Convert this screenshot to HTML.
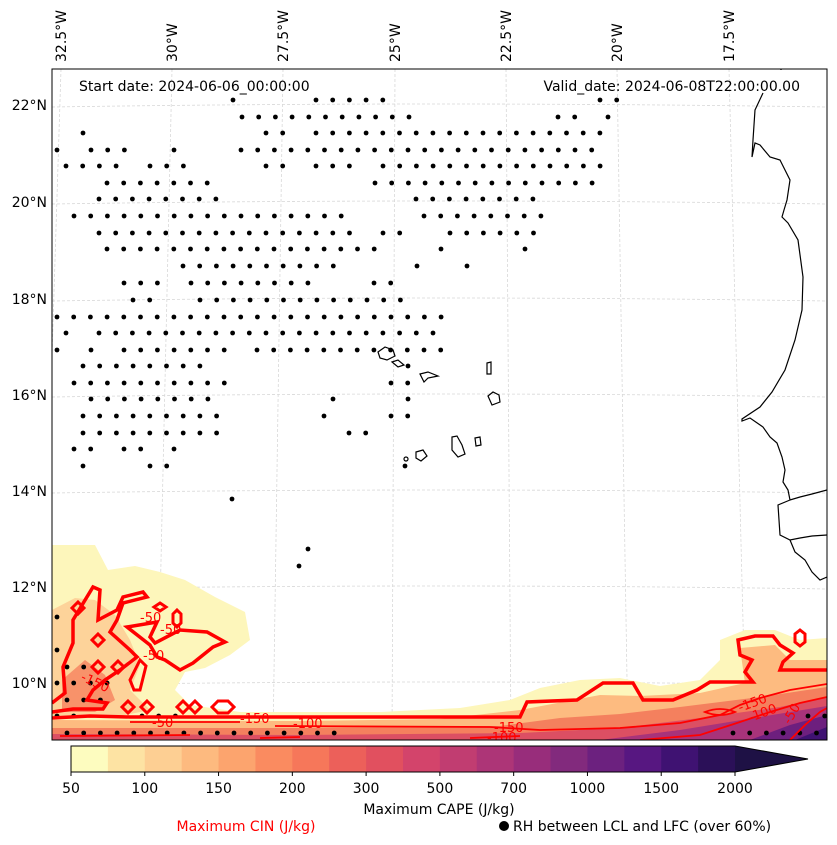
<!DOCTYPE html>
<html><head><meta charset="utf-8"><style>
html,body{margin:0;padding:0;background:#fff;}
svg{display:block;font-family:"DejaVu Sans","Liberation Sans",sans-serif;}
</style></head><body>
<svg id="fig" width="837" height="845" viewBox="0 0 837 845" xmlns="http://www.w3.org/2000/svg">
<defs><clipPath id="mapclip"><rect x="52" y="69" width="775" height="671"/></clipPath></defs>
<rect x="0" y="0" width="837" height="845" fill="#fff"/>
<g clip-path="url(#mapclip)">
  <g id="grid"></g>
  <g>
    <path fill="#fdf6bb" d="M52,545 L95,545 L108,570 L135,566 L160,572 L185,580 L215,597 L245,612 L250,640 L230,655 L205,668 L185,672 L175,690 L190,705 L240,712 L300,712 L380,712 L460,708 L510,700 L540,688 L580,680 L620,678 L660,686 L700,680 L720,660 L720,640 L745,630 L775,630 L800,640 L827,638 L827,740 L52,740 Z"/>
    <path fill="#fdd39a" d="M52,610 L75,598 L95,600 L115,615 L130,640 L140,665 L130,690 L150,710 L120,716 L52,716 Z"/>
    <path fill="#fdbb80" d="M52,720 L300,721 L440,719 L520,710 L600,695 L640,696 L700,693 L745,683 L740,648 L775,645 L790,660 L827,660 L827,740 L52,740 Z"/>
    <path fill="#f8926a" d="M62,680 L85,660 L105,675 L115,700 L95,712 L62,712 Z"/>
    <path fill="#f4805e" d="M52,728 L300,728 L500,726 L560,718 L620,714 L680,707 L760,697 L827,687 L827,740 L52,740 Z"/>
    <path fill="#dc4f63" d="M52,734 L300,735 L520,733 L620,728 L700,718 L780,707 L827,697 L827,740 L52,740 Z"/>
    <path fill="#a8337a" d="M600,740 L680,730 L760,717 L827,706 L827,740 Z"/>
    <path fill="#6d1f7e" d="M750,740 L790,725 L827,715 L827,740 Z"/>
    <path fill="#3f1272" d="M795,740 L827,727 L827,740 Z"/>
  </g>
  <g id="dots"></g>
  <g fill="none" stroke="#000" stroke-width="1.2">
    <path d="M781,62 L781,70 M763,93 L755,110 L753,140 L752,157 L755,143 L760,145 L770,157 L780,160 L783,166 L790,180 L787,200 L784,210 L782,217 L788,223 L798,240 L803,277 L802,310 L795,340 L785,370 L772,392 L760,407 L742,419 L742,421 L750,418 L763,427 L770,437 L777,443 L782,457 L785,470 L783,482 L788,490 L790,500 L800,497 L812,494 L827,490 M790,500 L778,505 L779,520 L780,535 L790,540 L800,538 L812,536 L827,535 M790,540 L795,552 L805,560 L812,572 L820,580 L827,577"/>
    <path d="M378,352 L385,347 L393,350 L395,356 L387,360 L380,358 Z"/>
    <path d="M392,362 L398,360 L404,365 L398,367 Z"/>
    <path d="M420,374 L428,372 L438,376 L428,378 L424,382 Z"/>
    <path d="M487,363 L491,362 L491,374 L487,374 Z"/>
    <path d="M488,396 L493,392 L499,395 L500,402 L492,405 Z"/>
    <path d="M452,437 L457,436 L462,445 L465,454 L458,457 L452,450 Z"/>
    <path d="M475,438 L480,437 L481,445 L476,446 Z"/>
    <path d="M416,452 L423,450 L427,456 L421,461 L416,458 Z"/>
    <circle cx="406" cy="459" r="2"/>
  </g>
  <g fill="none" stroke="#ff0000">
    <path stroke-width="3.5" stroke-linejoin="miter" d="M52,718 L90,716 L130,717 L180,717 L520,717 L527,702 L577,700 L603,683 L633,683 L643,700 L673,700 L697,690 L710,682 L753,682 L745,672 L752,660 L740,655 L738,640 L755,636 L773,636 L780,645 L793,653 L783,662 L780,670 L800,670 L827,670"/>
    <path stroke-width="3.5" d="M52,703 L65,693 L63,667 L73,643 L73,620 L93,587 L100,590 L98,620 L117,610 L123,597 L143,592 L147,597 L123,603 L117,620 L110,632 L130,650 L137,657 L120,670 L105,680 L93,690 L87,700 L107,703 L103,709 L73,709 L52,712"/>
    <path stroke-width="3.5" d="M127,627 L157,622 L150,637 L155,643 L180,630 L207,632 L225,642 L213,647 L193,663 L180,670 L165,660 L157,657 L150,645 Z"/>
    <path stroke-width="3" d="M98,634 L104,640 L98,646 L92,640 Z M78,602 L84,608 L78,614 L72,608 Z M98,661 L104,667 L98,673 L92,667 Z M118,661 L124,667 L118,673 L112,667 Z M128,701 L134,707 L128,713 L122,707 Z M147,701 L153,707 L147,713 L141,707 Z M183,701 L189,707 L183,713 L177,707 Z M195,701 L201,707 L195,713 L189,707 Z M212,707 L218,701 L228,701 L234,707 L228,713 L218,713 Z M177,610 L181,614 L181,623 L177,627 L173,623 L173,614 Z M800,630 L805,634 L805,642 L800,646 L795,642 L795,634 Z M160,603 L166,607 L160,611 L154,607 Z M140,660 L146,666 L140,690 L134,690 L130,680 Z"/>
    <path stroke-width="1.8" d="M130,722 L240,722 M275,726 L490,727 L540,730 L620,728 L680,723 L720,715 L740,705 L760,698 L790,690 L827,684"/>
    <path stroke-width="1.8" d="M60,736 L190,735 M260,738 L300,737 M470,738 L520,736 M640,740 L700,735 L740,722 L770,712 L800,703 L827,697"/>
    <path stroke-width="1.8" d="M790,740 L805,725 L820,712 L827,708 M705,712 Q720,706 735,712 Q720,718 705,712 Z"/>
  </g>
  <g fill="#ff0000" font-size="13">
    <text x="240" y="723">-150</text>
    <text x="293" y="728">-100</text>
    <text x="152" y="727">-50</text>
    <text x="494" y="732">-150</text>
    <text x="487" y="742">-100</text>
    <text x="140" y="622">-50</text>
    <text x="160" y="634">-50</text>
    <text x="143" y="660">-50</text>
    <text x="80" y="680" transform="rotate(25 80 680)">-150</text>
    <text x="740" y="712" transform="rotate(-20 740 712)">-150</text>
    <text x="750" y="722" transform="rotate(-20 750 722)">-100</text>
    <text x="790" y="725" transform="rotate(-60 790 725)">-50</text>
  </g>
</g>
<rect x="52" y="69" width="775" height="671" fill="none" stroke="#000" stroke-width="1"/>
<g id="lonlabels" font-size="14" fill="#000"></g>
<g id="latlabels" font-size="14" fill="#000"></g>
<text x="79" y="91" font-size="14">Start date: 2024-06-06_00:00:00</text>
<text x="800" y="91" font-size="14" text-anchor="end">Valid_date: 2024-06-08T22:00:00.00</text>
<g id="colorbar"></g>
<text x="439" y="814" font-size="14" text-anchor="middle">Maximum CAPE (J/kg)</text>
<text x="246" y="831" font-size="14" text-anchor="middle" fill="#ff0000">Maximum CIN (J/kg)</text>
<circle cx="504" cy="826" r="5" fill="#000"/>
<text x="513" y="831" font-size="14">RH between LCL and LFC (over 60%)</text>
</svg>
<script>
var NS="http://www.w3.org/2000/svg";
// colorbar data
var cbLevels=[50,75,100,125,150,175,200,250,300,400,500,600,700,800,1000,1250,1500,1750,2000];
var cbColors=["#fdfcbf","#fde3a3","#fdcf93","#fdba7f","#fca46e","#fa8b60","#f6775a","#ec605a","#e1505f","#d3446b","#c13d71","#ad3577","#982d7b","#822a7d","#6c217f","#571781","#3f1272","#2b1058"];
var cbOverColor="#1e1145";
var cbTickLabels=["50","100","150","200","300","500","700","1000","1500","2000"];
var cbTickIndex=[0,2,4,6,8,10,12,14,16,18];
// longitude / latitude labels
var lonLabels=["32.5°W","30°W","27.5°W","25°W","22.5°W","20°W","17.5°W"];
var lonTopX=[61,172,283,395,506,617,729];
var lonBotX=[40,157,273,392,511,628,746];
var latLabels=["22°N","20°N","18°N","16°N","14°N","12°N","10°N"];
var latY=[105,202,299,395,491,587,683];
// RH dots: rows [y, [x1,x2], ...] ranges stepped by 16.7
var dotStep=16.7;
var dotRows=[
[100,[233,233],[316,383],[600,617]],
[117,[242,425],[558,575],[608,608]],
[133,[83,83],[266,283],[316,600]],
[150,[57,57],[91,124],[174,174],[241,592]],
[166,[66,117],[150,183],[266,283],[316,349],[383,600]],
[183,[107,207],[375,608]],
[199,[99,217],[416,535]],
[216,[74,357],[424,542]],
[233,[99,349],[383,400],[450,533]],
[249,[107,374],[441,457],[525,525]],
[266,[183,333],[417,433],[467,467]],
[283,[124,157],[191,324],[374,391]],
[300,[133,150],[200,400]],
[317,[57,442]],
[333,[66,66],[99,433]],
[350,[57,57],[91,91],[124,224],[257,442]],
[366,[83,200],[408,408]],
[383,[74,224],[391,408]],
[399,[91,224],[333,333],[408,408]],
[416,[83,224],[324,324],[391,408]],
[433,[83,217],[349,366]],
[449,[74,91],[124,141],[174,174]],
[466,[83,83],[150,167],[405,405]],
[499,[232,232]],[549,[308,308]],[566,[299,299]],
[617,[57,57]],[650,[57,57]],[667,[67,84]],
[683,[57,108]],[700,[67,101]],
[716,[57,75],[142,175],[808,825]],
[733,[67,350],[733,817]]
];
(function(){
 var g=document.getElementById('grid');
 for(var i=0;i<lonTopX.length;i++){
  var l=document.createElementNS(NS,'line');
  l.setAttribute('x1',lonTopX[i]);l.setAttribute('y1',69);l.setAttribute('x2',lonBotX[i]);l.setAttribute('y2',740);
  l.setAttribute('stroke','#d8d8d8');l.setAttribute('stroke-width','0.8');l.setAttribute('stroke-dasharray','3,2');
  
  
  g.appendChild(l);
 }
 for(var j=0;j<latY.length;j++){
  var p=document.createElementNS(NS,'path');
  var y=latY[j];
  p.setAttribute('d','M52,'+(y+2)+' Q440,'+(y-4)+' 827,'+(y+2));
  p.setAttribute('fill','none');p.setAttribute('stroke','#d8d8d8');p.setAttribute('stroke-width','0.8');p.setAttribute('stroke-dasharray','3,2');
  
  
  g.appendChild(p);
 }
 var lg=document.getElementById('lonlabels');
 for(var i=0;i<lonLabels.length;i++){
  var t=document.createElementNS(NS,'text');
  t.setAttribute('transform','translate('+(lonTopX[i]+5)+',62) rotate(-90)');
  t.textContent=lonLabels[i];
  
  
  lg.appendChild(t);
 }
 var ag=document.getElementById('latlabels');
 for(var j=0;j<latLabels.length;j++){
  var t=document.createElementNS(NS,'text');
  t.setAttribute('x',47);t.setAttribute('y',latY[j]+5);t.setAttribute('text-anchor','end');
  t.textContent=latLabels[j];
  
  
  ag.appendChild(t);
 }
 var dg=document.getElementById('dots');
 dotRows.forEach(function(row){
  var y=row[0];
  for(var k=1;k<row.length;k++){
   for(var x=row[k][0];x<=row[k][1]+0.5;x+=dotStep){
    var c=document.createElementNS(NS,'circle');
    c.setAttribute('cx',x.toFixed(1));c.setAttribute('cy',y);c.setAttribute('r','2.4');c.setAttribute('fill','#000');
    
    
    dg.appendChild(c);
   }
  }
 });
 var cb=document.getElementById('colorbar');
 var x0=71,y0=746,h=26,n=cbColors.length,w=(735-71)/n;
 function cbX(i){return x0+i*w;}
 for(var i=0;i<n;i++){
  var r=document.createElementNS(NS,'rect');
  r.setAttribute('x',cbX(i));r.setAttribute('y',y0);r.setAttribute('width',w+0.6);r.setAttribute('height',h);r.setAttribute('fill',cbColors[i]);
  
  
  cb.appendChild(r);
 }
 var tri=document.createElementNS(NS,'path');
 tri.setAttribute('d','M'+cbX(n)+','+y0+' L808,'+(y0+h/2)+' L'+cbX(n)+','+(y0+h)+' Z');
 tri.setAttribute('fill',cbOverColor);
 
 
 cb.appendChild(tri);
 var ol=document.createElementNS(NS,'path');
 ol.setAttribute('d','M'+x0+','+y0+' L'+cbX(n)+','+y0+' L808,'+(y0+h/2)+' L'+cbX(n)+','+(y0+h)+' L'+x0+','+(y0+h)+' Z');
 ol.setAttribute('fill','none');ol.setAttribute('stroke','#000');ol.setAttribute('stroke-width','1');
 
 
 cb.appendChild(ol);
 for(var i=0;i<cbTickLabels.length;i++){
  var tx=cbX(cbTickIndex[i]);
  var tk=document.createElementNS(NS,'line');
  tk.setAttribute('x1',tx);tk.setAttribute('x2',tx);tk.setAttribute('y1',y0+h);tk.setAttribute('y2',y0+h+4);tk.setAttribute('stroke','#000');
  
  
  cb.appendChild(tk);
  var t=document.createElementNS(NS,'text');
  t.setAttribute('x',tx);t.setAttribute('y',793);t.setAttribute('text-anchor','middle');t.setAttribute('font-size','14');
  t.textContent=cbTickLabels[i];
  
  
  cb.appendChild(t);
 }
})();
</script>
</body></html>
